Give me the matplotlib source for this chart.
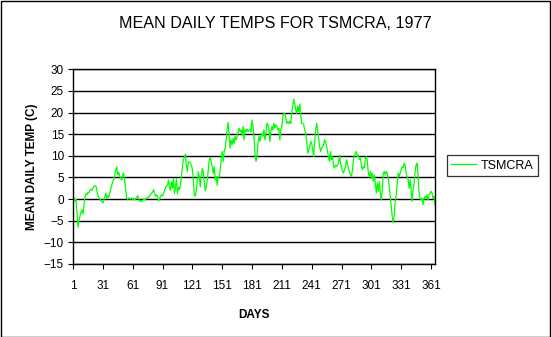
import matplotlib
matplotlib.use("Agg")
import matplotlib.pyplot as plt
from matplotlib.patches import Rectangle

plt.rcParams["font.family"] = ["Liberation Sans", "DejaVu Sans"]

# Mean daily temperatures (C), days 1..365
temps_jan_mar = [
    0.6, 0.2, -0.5, 0.0, -3.0, -6.5, -5.0, -4.0, -3.0, -2.5,
    -3.5, -1.5, 0.5, 1.2, 1.0, 1.6, 1.4, 2.0, 2.3, 2.0,
    2.6, 2.9, 3.1, 3.0, 2.0, 0.8, 0.4, 0.0, -0.3, -0.6,
    -0.9, -0.3, 0.6, 1.4, 0.2, 0.8, 0.4, 1.5, 2.4, 3.3,
    4.0, 4.6, 5.6, 6.8, 7.4, 5.6, 6.2, 5.4, 4.8, 4.4,
    5.8, 6.0, 4.0, 2.0, 0.2, -0.1, 0.3, 0.1, 0.0, 0.3,
    -0.1, 0.2, -0.2, 0.1, 0.3, 0.8, 0.2, -0.5, -0.3, -0.6,
    -0.4, 0.1, -0.2, 0.0, 0.3, 0.2,
]
temps_mar_may = [
    0.5, 0.7, 1.0, 1.3, 1.6, 2.2, 1.5, 0.6, 1.0, 0.6,
    -0.4, 0.1, 0.6, 1.0, 0.7, 1.3, 2.0, 2.6, 3.0, 3.2,
    4.4, 2.7, 2.0, 4.0, 2.5, 4.8, 1.3, 2.8, 4.7, 1.2,
    2.8, 2.2, 3.0, 5.2, 7.5, 9.2, 9.6, 10.4, 7.8, 6.3,
    8.6, 8.6, 8.4, 7.8, 7.1, 4.4, 0.9, 0.7, 2.0, 4.4,
    6.3, 5.2, 2.8, 5.2, 7.1, 6.3, 4.0, 2.0, 2.7, 4.4,
    6.7, 9.0, 9.6, 8.6, 7.5, 5.9, 7.5, 4.4, 5.2, 3.2,
    5.3,
]
temps_may_aug = [
    5.1, 6.8, 9.1, 11.0, 8.7, 11.0, 11.8, 13.7, 16.2, 17.7,
    14.8, 11.8, 13.7, 12.5, 14.1, 12.9, 14.5, 13.7, 14.5, 15.6,
    16.4, 15.6, 16.0, 14.8, 16.8, 13.7, 16.0, 15.6, 16.2, 15.6,
    16.0, 16.0, 15.6, 18.3, 16.8, 14.5, 10.6, 8.7, 9.8, 12.9,
    14.5, 13.3, 14.8, 15.2, 14.5, 16.0, 13.7, 15.2, 17.5, 17.2,
    16.0, 13.3, 15.6, 16.8, 16.0, 17.5, 16.4, 17.2, 16.8, 16.0,
    16.4, 13.7, 16.0, 16.8, 19.1, 19.7, 19.8, 18.7, 17.5, 17.9,
    17.5,
]
temps_aug_oct = [
    18.0, 17.5, 20.2, 21.4, 23.1, 22.0, 20.6, 19.8, 21.5, 20.2,
    22.0, 19.5, 17.5, 17.5, 17.2, 16.0, 15.2, 13.3, 10.6, 11.4,
    12.2, 13.3, 12.9, 11.4, 9.8, 13.3, 16.0, 17.5, 16.0, 14.1,
    12.2, 11.0, 11.8, 12.2, 12.5, 13.7, 13.3, 12.2, 11.0, 9.5,
    8.7, 11.0, 9.1, 9.8, 7.5, 7.2, 7.9, 7.5, 7.9, 8.3,
    10.2, 8.3, 7.2, 6.4, 6.0, 6.8, 7.5, 9.1, 8.3, 6.8,
    6.4, 5.6, 5.2, 6.8, 9.1, 10.2, 10.6, 11.0, 9.8, 10.2,
    9.1, 9.5, 7.9, 6.8, 7.5, 7.2,
]
temps_oct_dec = [
    9.5, 9.8, 8.7, 6.0, 5.2, 6.4, 4.8, 6.0, 4.1, 5.6,
    3.7, 1.4, 3.7, 1.8, 4.1, 1.4, -0.2, 2.2, 6.0, 6.4,
    5.6, 6.4, 6.0, 4.8, 2.9, 0.6, -1.7, -4.0, -5.4, -4.0,
    -0.5, 1.0, 3.7, 6.0, 5.2, 6.0, 6.8, 7.5, 7.2, 8.3,
    7.9, 6.0, 5.2, 4.5, 2.5, 4.5, 2.2, -0.5, 2.2, 3.7,
    6.4, 7.9, 8.3, 5.2, 1.4, 0.2, -0.2, 0.2, -1.3, 0.2,
    0.6, 0.2, 1.0, -0.2, 1.0, 1.4, 1.8, 1.4, 0.2, 0.6,
    -1.5,
]

temps = temps_jan_mar + temps_mar_may + temps_may_aug + temps_aug_oct + temps_oct_dec
days = list(range(1, len(temps) + 1))

x_ticks = list(range(1, 362, 30))
y_ticks = list(range(-15, 31, 5))

W, H = 551, 337
fig = plt.figure(figsize=(W / 100, H / 100), dpi=100)
ax = fig.add_axes([73 / W, 1 - 264 / H, (435 - 73) / W, (264 - 69.3) / H])

line, = ax.plot(days, temps, color="#00ff00", lw=0.9, label="TSMCRA")

ax.set_xlim(1, 365)
ax.set_ylim(-15, 30)
ax.set_xticks(x_ticks)
ax.set_yticks(y_ticks)
ax.tick_params(axis="both", direction="out", length=3.5, width=0.8,
               labelsize=8.5, colors="black", pad=3)
ax.tick_params(axis="x", pad=8)
ax.yaxis.grid(True, color="black", lw=1.0)
ax.set_axisbelow(True)
for sp in ax.spines.values():
    sp.set_color("black")
    sp.set_linewidth(1.0)

ax.set_xlabel("DAYS", fontsize=8.5, fontweight="bold", labelpad=12)
ax.set_ylabel("MEAN DAILY TEMP (C)", fontsize=8.5, fontweight="bold", labelpad=4)

fig.text(0.5, 1 - 23 / H, "MEAN DAILY TEMPS FOR TSMCRA, 1977",
         ha="center", va="center", fontsize=11.6)

leg = fig.legend(handles=[line], loc="center left",
                 bbox_to_anchor=(446.5 / W, 1 - 165.7 / H),
                 fontsize=9, frameon=True, fancybox=False, edgecolor="black",
                 handlelength=2.0, handletextpad=0.4, borderpad=0.35,
                 borderaxespad=0)
leg.get_frame().set_linewidth(0.9)

# outer chart border
fig.patches.append(Rectangle((0.5 / W, 0.5 / H), 1 - 1.5 / W, 1 - 1.5 / H,
                             transform=fig.transFigure, fill=False,
                             edgecolor="black", lw=1.0))

fig.savefig("out.png", dpi=100)
